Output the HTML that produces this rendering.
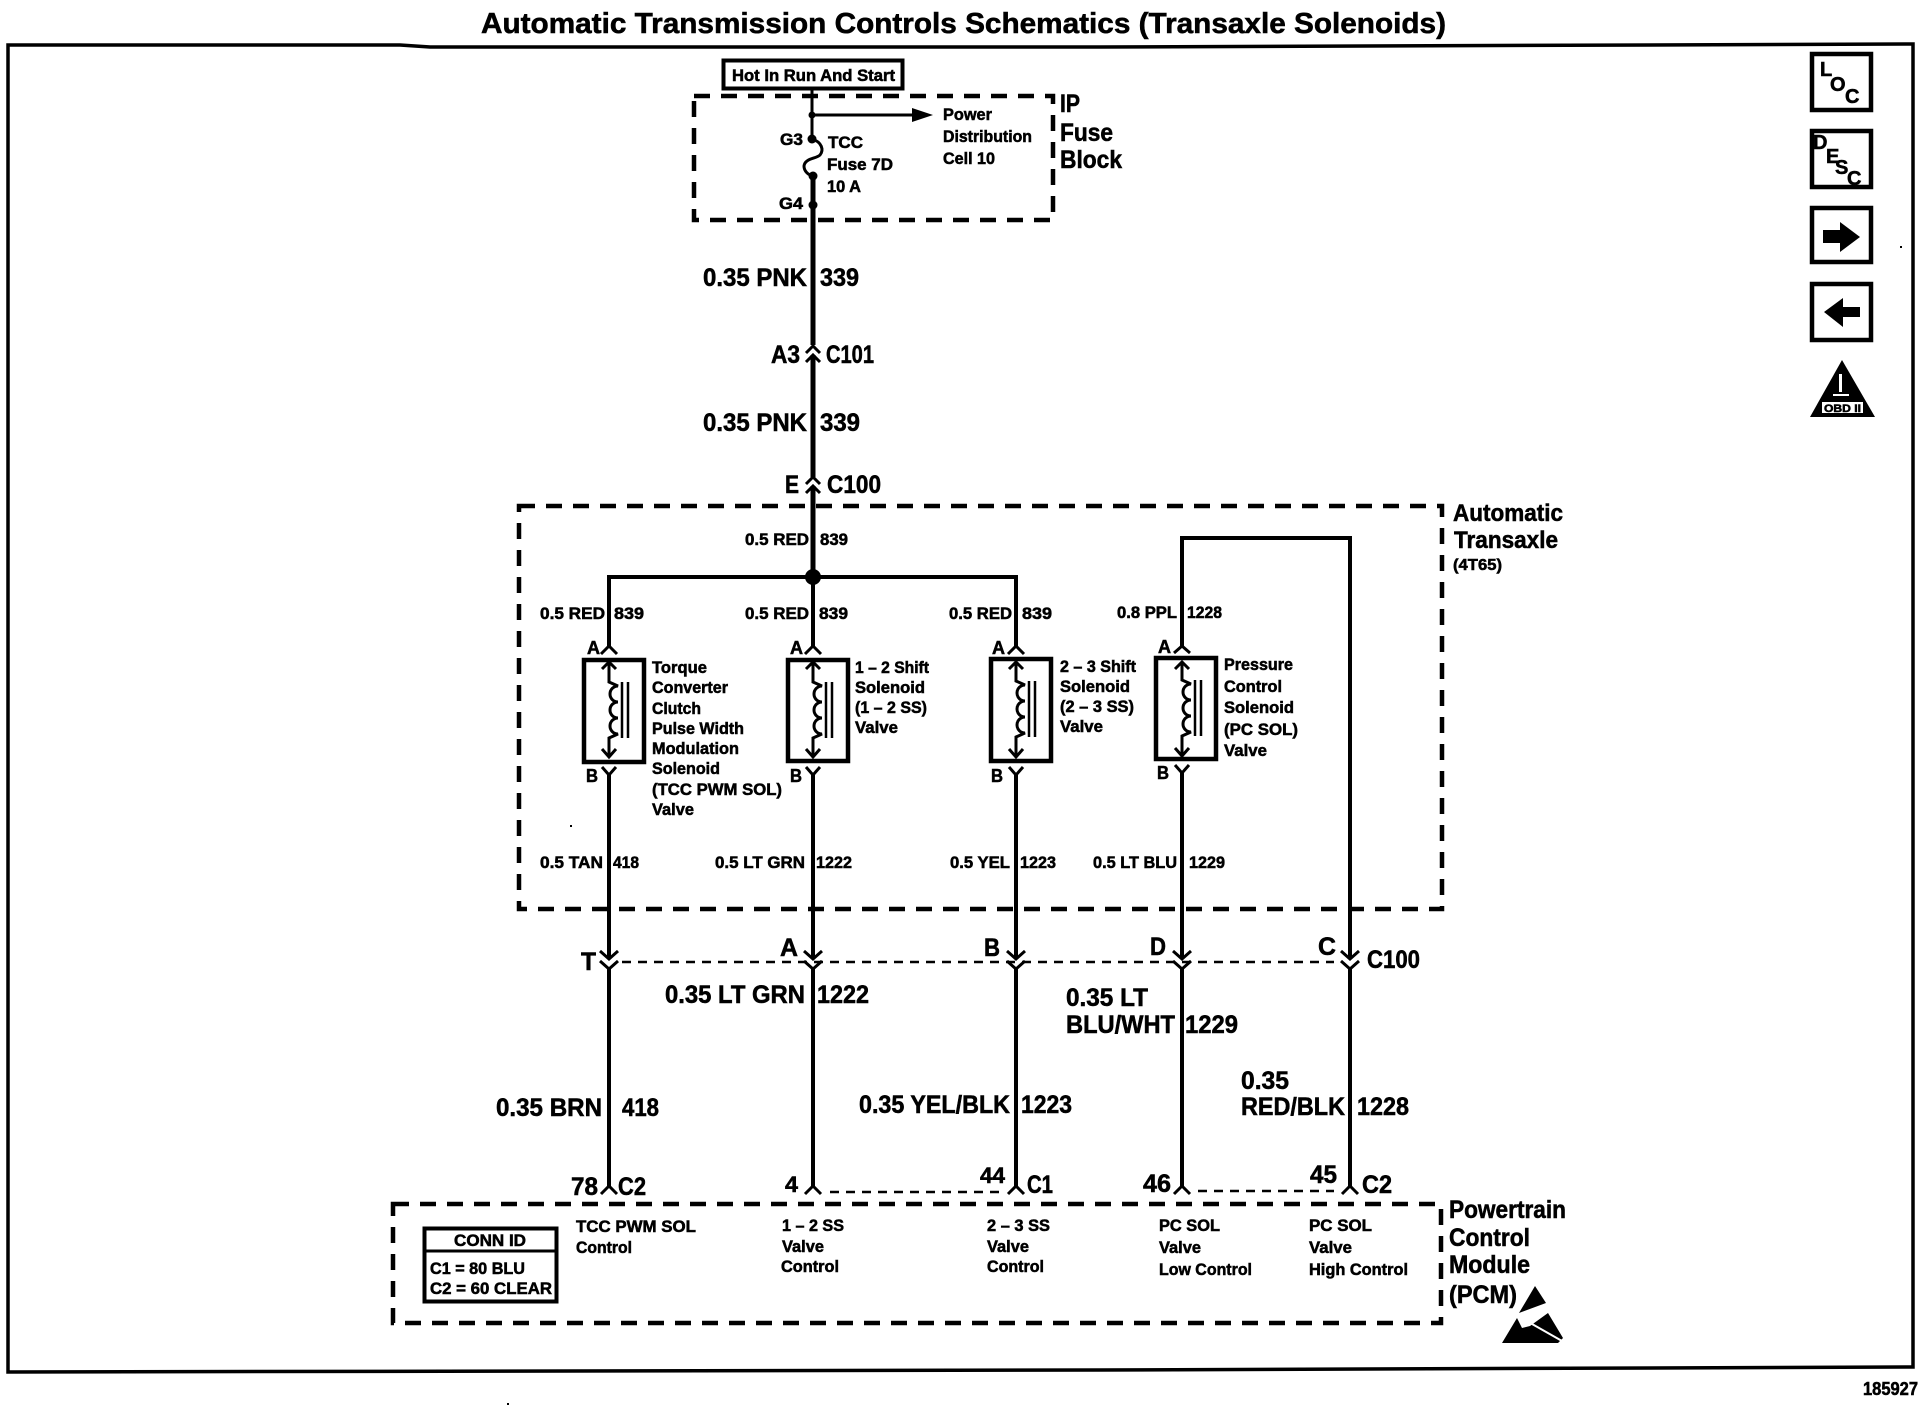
<!DOCTYPE html>
<html>
<head>
<meta charset="utf-8">
<style>
html,body{margin:0;padding:0;background:#fff;width:1924px;height:1424px;overflow:hidden}
svg{display:block}
text{font-family:"Liberation Sans",sans-serif;font-weight:bold;fill:#000;stroke:#000;stroke-width:.55px}
.s{font-size:17px}
.l{font-size:25px}
.w{fill:none;stroke:#000;stroke-width:4}
.t{fill:none;stroke:#000;stroke-width:3}
.d{fill:none;stroke:#000;stroke-width:4.5;stroke-dasharray:16 11}
.h{fill:none;stroke:#000;stroke-width:2.5;stroke-dasharray:9 7}
</style>
</head>
<body>
<svg width="1924" height="1424" viewBox="0 0 1924 1424" xmlns="http://www.w3.org/2000/svg">
<rect width="1924" height="1424" fill="#fff"/>

<!-- Title and frame -->
<text x="481" y="33" style="font-size:29px" textLength="965" lengthAdjust="spacingAndGlyphs">Automatic Transmission Controls Schematics (Transaxle Solenoids)</text>
<path d="M8 45H400L430 47H1100L1913 44V1367L1100 1370L8 1372Z" fill="none" stroke="#000" stroke-width="3.5"/>

<!-- Side icons -->
<rect x="1812" y="54" width="59" height="56" fill="none" stroke="#000" stroke-width="4.5"/>
<text x="1820" y="76" style="font-size:20px">L</text><text x="1830" y="91" style="font-size:20px">O</text><text x="1845" y="103" style="font-size:20px">C</text>
<rect x="1812" y="131" width="59" height="56" fill="none" stroke="#000" stroke-width="4.5"/>
<text x="1813" y="149" style="font-size:20px">D</text><text x="1826" y="163" style="font-size:20px">E</text><text x="1835" y="174" style="font-size:20px">S</text><text x="1847" y="185" style="font-size:20px">C</text>
<rect x="1812" y="208" width="59" height="54" fill="none" stroke="#000" stroke-width="4.5"/>
<polygon points="1823,230 1840,230 1840,222 1860,237 1840,252 1840,243 1823,243"/>
<rect x="1812" y="284" width="59" height="56" fill="none" stroke="#000" stroke-width="4.5"/>
<polygon points="1860,307 1843,307 1843,298 1824,312 1843,327 1843,317 1860,317"/>
<polygon points="1842,360 1810,417 1875,417"/>
<rect x="1839" y="374" width="3" height="18" fill="#fff"/>
<rect x="1833" y="394" width="16" height="2" fill="#fff"/>
<rect x="1822" y="402" width="41" height="11" fill="#fff"/>
<text x="1824" y="412" style="font-size:11px" textLength="37" lengthAdjust="spacingAndGlyphs">OBD II</text>

<!-- Fuse block -->
<rect x="723.5" y="60.5" width="179" height="28" fill="none" stroke="#000" stroke-width="4"/>
<text class="s" x="732" y="81" textLength="163" lengthAdjust="spacingAndGlyphs">Hot In Run And Start</text>
<rect class="d" x="694" y="96" width="359" height="124"/>
<path class="t" d="M812 89V139"/>
<path class="t" d="M812 115H918"/>
<polygon points="912,108 933,115 912,122"/>
<circle cx="812" cy="115" r="3.5"/>
<circle cx="812" cy="139" r="4.5"/>
<path class="t" d="M812 139C822 142 824 150 820 155C816 159 805 158 804 166C804 171 808 175 813 176"/>
<circle cx="813" cy="176" r="4.5"/>
<circle cx="813" cy="205" r="4.5"/>
<path d="M813 176V345M813 355V477M813 486V577" fill="none" stroke="#000" stroke-width="5"/>
<text class="s" x="780" y="145" textLength="23" lengthAdjust="spacingAndGlyphs">G3</text>
<text class="s" x="779" y="209" textLength="24" lengthAdjust="spacingAndGlyphs">G4</text>
<text class="s" x="828" y="148" textLength="35" lengthAdjust="spacingAndGlyphs">TCC</text>
<text class="s" x="827" y="170" textLength="66" lengthAdjust="spacingAndGlyphs">Fuse 7D</text>
<text class="s" x="827" y="192" textLength="34" lengthAdjust="spacingAndGlyphs">10 A</text>
<text class="s" x="943" y="120" textLength="49" lengthAdjust="spacingAndGlyphs">Power</text>
<text class="s" x="943" y="142" textLength="89" lengthAdjust="spacingAndGlyphs">Distribution</text>
<text class="s" x="943" y="164" textLength="52" lengthAdjust="spacingAndGlyphs">Cell 10</text>
<text class="l" x="1060" y="112" textLength="20" lengthAdjust="spacingAndGlyphs">IP</text>
<text class="l" x="1060" y="141" textLength="53" lengthAdjust="spacingAndGlyphs">Fuse</text>
<text class="l" x="1060" y="168" textLength="62" lengthAdjust="spacingAndGlyphs">Block</text>

<text class="l" x="703" y="286" textLength="104" lengthAdjust="spacingAndGlyphs">0.35 PNK</text>
<text class="l" x="820" y="286" textLength="39" lengthAdjust="spacingAndGlyphs">339</text>
<text class="l" x="771" y="363" textLength="29" lengthAdjust="spacingAndGlyphs">A3</text>
<text class="l" x="826" y="363" textLength="48" lengthAdjust="spacingAndGlyphs">C101</text>
<path class="t" d="M806 353L813 346L820 353M806 362L813 355L820 362"/>
<text class="l" x="703" y="431" textLength="104" lengthAdjust="spacingAndGlyphs">0.35 PNK</text>
<text class="l" x="820" y="431" textLength="40" lengthAdjust="spacingAndGlyphs">339</text>
<text class="l" x="785" y="493" textLength="14" lengthAdjust="spacingAndGlyphs">E</text>
<text class="l" x="827" y="493" textLength="54" lengthAdjust="spacingAndGlyphs">C100</text>
<path class="t" d="M806 484L813 477L820 484M806 493L813 486L820 493"/>

<!-- Automatic transaxle box -->
<rect class="d" x="519" y="506" width="923" height="403"/>
<text class="l" style="font-size:24px" x="1453" y="521" textLength="110" lengthAdjust="spacingAndGlyphs">Automatic</text>
<text class="l" style="font-size:24px" x="1454" y="548" textLength="104" lengthAdjust="spacingAndGlyphs">Transaxle</text>
<text x="1453" y="570" style="font-size:16px" textLength="49" lengthAdjust="spacingAndGlyphs">(4T65)</text>

<!-- Upper harness -->
<circle cx="813" cy="577" r="8"/>
<path class="w" d="M609 646V577H1016V646"/>
<path class="w" d="M813 577V646"/>
<path class="w" d="M1182 646V538H1350V958"/>

<text class="s" x="745" y="545" textLength="64" lengthAdjust="spacingAndGlyphs">0.5 RED</text>
<text class="s" x="820" y="545" textLength="28" lengthAdjust="spacingAndGlyphs">839</text>
<text class="s" x="540" y="619" textLength="65" lengthAdjust="spacingAndGlyphs">0.5 RED</text>
<text class="s" x="614" y="619" textLength="30" lengthAdjust="spacingAndGlyphs">839</text>
<text class="s" x="745" y="619" textLength="64" lengthAdjust="spacingAndGlyphs">0.5 RED</text>
<text class="s" x="819" y="619" textLength="29" lengthAdjust="spacingAndGlyphs">839</text>
<text class="s" x="949" y="619" textLength="63" lengthAdjust="spacingAndGlyphs">0.5 RED</text>
<text class="s" x="1022" y="619" textLength="30" lengthAdjust="spacingAndGlyphs">839</text>
<text class="s" x="1117" y="618" textLength="60" lengthAdjust="spacingAndGlyphs">0.8 PPL</text>
<text class="s" x="1187" y="618" textLength="35" lengthAdjust="spacingAndGlyphs">1228</text>

<!-- Solenoid 1 -->
<rect x="584" y="660" width="60" height="102" fill="none" stroke="#000" stroke-width="4.5"/>
<path class="t" d="M601 654L609 646L617 654"/>
<path class="t" d="M602 669L609 662L616 669M609 662V682L618 686A8 8 0 0 0 618 702A8 8 0 0 0 618 718A8 8 0 0 0 618 734L609 738V757M602 749L609 757L616 749"/>
<path d="M622 682V738M628 682V738" stroke="#000" stroke-width="2.5" fill="none"/>
<path class="t" d="M602 767L609 775L616 767"/>
<text class="s" style="font-size:18px" x="587" y="654" textLength="13" lengthAdjust="spacingAndGlyphs">A</text>
<text class="s" style="font-size:18px" x="586" y="782" textLength="12" lengthAdjust="spacingAndGlyphs">B</text>
<text class="s" x="652" y="673" textLength="55" lengthAdjust="spacingAndGlyphs">Torque</text>
<text class="s" x="652" y="693" textLength="76" lengthAdjust="spacingAndGlyphs">Converter</text>
<text class="s" x="652" y="714" textLength="49" lengthAdjust="spacingAndGlyphs">Clutch</text>
<text class="s" x="652" y="734" textLength="92" lengthAdjust="spacingAndGlyphs">Pulse Width</text>
<text class="s" x="652" y="754" textLength="87" lengthAdjust="spacingAndGlyphs">Modulation</text>
<text class="s" x="652" y="774" textLength="68" lengthAdjust="spacingAndGlyphs">Solenoid</text>
<text class="s" x="652" y="795" textLength="130" lengthAdjust="spacingAndGlyphs">(TCC PWM SOL)</text>
<text class="s" x="652" y="815" textLength="42" lengthAdjust="spacingAndGlyphs">Valve</text>

<!-- Solenoid 2 -->
<rect x="788" y="660" width="60" height="101" fill="none" stroke="#000" stroke-width="4.5"/>
<path class="t" d="M805 654L813 646L821 654"/>
<path class="t" d="M806 669L813 662L820 669M813 662V682L822 686A8 8 0 0 0 822 702A8 8 0 0 0 822 718A8 8 0 0 0 822 734L813 738V757M806 749L813 757L820 749"/>
<path d="M826 682V738M832 682V738" stroke="#000" stroke-width="2.5" fill="none"/>
<path class="t" d="M806 767L813 775L820 767"/>
<text class="s" style="font-size:18px" x="790" y="654" textLength="13" lengthAdjust="spacingAndGlyphs">A</text>
<text class="s" style="font-size:18px" x="790" y="782" textLength="12" lengthAdjust="spacingAndGlyphs">B</text>
<text class="s" x="855" y="673" textLength="74" lengthAdjust="spacingAndGlyphs">1 – 2 Shift</text>
<text class="s" x="855" y="693" textLength="70" lengthAdjust="spacingAndGlyphs">Solenoid</text>
<text class="s" x="855" y="713" textLength="72" lengthAdjust="spacingAndGlyphs">(1 – 2 SS)</text>
<text class="s" x="855" y="733" textLength="43" lengthAdjust="spacingAndGlyphs">Valve</text>

<!-- Solenoid 3 -->
<rect x="991" y="659" width="60" height="102" fill="none" stroke="#000" stroke-width="4.5"/>
<path class="t" d="M1008 654L1016 646L1024 654"/>
<path class="t" d="M1009 669L1016 662L1023 669M1016 662V681L1025 685A8 8 0 0 0 1025 701A8 8 0 0 0 1025 717A8 8 0 0 0 1025 733L1016 737V757M1009 749L1016 757L1023 749"/>
<path d="M1029 681V737M1035 681V737" stroke="#000" stroke-width="2.5" fill="none"/>
<path class="t" d="M1009 767L1016 775L1023 767"/>
<text class="s" style="font-size:18px" x="992" y="654" textLength="13" lengthAdjust="spacingAndGlyphs">A</text>
<text class="s" style="font-size:18px" x="991" y="782" textLength="12" lengthAdjust="spacingAndGlyphs">B</text>
<text class="s" x="1060" y="672" textLength="76" lengthAdjust="spacingAndGlyphs">2 – 3 Shift</text>
<text class="s" x="1060" y="692" textLength="70" lengthAdjust="spacingAndGlyphs">Solenoid</text>
<text class="s" x="1060" y="712" textLength="74" lengthAdjust="spacingAndGlyphs">(2 – 3 SS)</text>
<text class="s" x="1060" y="732" textLength="43" lengthAdjust="spacingAndGlyphs">Valve</text>

<!-- Solenoid 4 -->
<rect x="1156" y="658" width="60" height="101" fill="none" stroke="#000" stroke-width="4.5"/>
<path class="t" d="M1174 653L1182 646L1190 653"/>
<path class="t" d="M1175 669L1182 662L1189 669M1182 662V680L1191 684A8 8 0 0 0 1191 700A8 8 0 0 0 1191 716A8 8 0 0 0 1191 732L1182 736V756M1175 748L1182 756L1189 748"/>
<path d="M1195 680V736M1201 680V736" stroke="#000" stroke-width="2.5" fill="none"/>
<path class="t" d="M1175 765L1182 773L1189 765"/>
<text class="s" style="font-size:18px" x="1158" y="653" textLength="13" lengthAdjust="spacingAndGlyphs">A</text>
<text class="s" style="font-size:18px" x="1157" y="779" textLength="12" lengthAdjust="spacingAndGlyphs">B</text>
<text class="s" x="1224" y="670" textLength="69" lengthAdjust="spacingAndGlyphs">Pressure</text>
<text class="s" x="1224" y="692" textLength="58" lengthAdjust="spacingAndGlyphs">Control</text>
<text class="s" x="1224" y="713" textLength="70" lengthAdjust="spacingAndGlyphs">Solenoid</text>
<text class="s" x="1224" y="735" textLength="74" lengthAdjust="spacingAndGlyphs">(PC SOL)</text>
<text class="s" x="1224" y="756" textLength="43" lengthAdjust="spacingAndGlyphs">Valve</text>

<!-- Wires below solenoids -->
<path class="w" d="M609 775V958M609 968V1186"/>
<path class="w" d="M813 775V958M813 968V1186"/>
<path class="w" d="M1016 775V958M1016 968V1186"/>
<path class="w" d="M1182 773V958M1182 968V1186"/>
<path class="w" d="M1350 968V1186"/>

<text class="s" x="540" y="868" textLength="63" lengthAdjust="spacingAndGlyphs">0.5 TAN</text>
<text class="s" x="613" y="868" textLength="26" lengthAdjust="spacingAndGlyphs">418</text>
<text class="s" x="715" y="868" textLength="90" lengthAdjust="spacingAndGlyphs">0.5 LT GRN</text>
<text class="s" x="816" y="868" textLength="36" lengthAdjust="spacingAndGlyphs">1222</text>
<text class="s" x="950" y="868" textLength="60" lengthAdjust="spacingAndGlyphs">0.5 YEL</text>
<text class="s" x="1020" y="868" textLength="36" lengthAdjust="spacingAndGlyphs">1223</text>
<text class="s" x="1093" y="868" textLength="84" lengthAdjust="spacingAndGlyphs">0.5 LT BLU</text>
<text class="s" x="1189" y="868" textLength="36" lengthAdjust="spacingAndGlyphs">1229</text>

<!-- C100 connector row -->
<path class="h" d="M622 962H1334"/>
<g fill="none" stroke="#000" stroke-width="3">
<path d="M600 951L609 959L618 951M600 961L609 969L618 961"/>
<path d="M804 951L813 959L822 951M804 961L813 969L822 961"/>
<path d="M1007 951L1016 959L1025 951M1007 961L1016 969L1025 961"/>
<path d="M1173 951L1182 959L1191 951M1173 961L1182 969L1191 961"/>
<path d="M1341 951L1350 959L1359 951M1341 961L1350 969L1359 961"/>
</g>
<text class="l" x="581" y="970" textLength="15" lengthAdjust="spacingAndGlyphs">T</text>
<text class="l" x="780" y="956" textLength="18" lengthAdjust="spacingAndGlyphs">A</text>
<text class="l" x="984" y="956" textLength="16" lengthAdjust="spacingAndGlyphs">B</text>
<text class="l" x="1150" y="955" textLength="16" lengthAdjust="spacingAndGlyphs">D</text>
<text class="l" x="1318" y="955" textLength="18" lengthAdjust="spacingAndGlyphs">C</text>
<text class="l" x="1367" y="968" textLength="53" lengthAdjust="spacingAndGlyphs">C100</text>

<text class="l" x="665" y="1003" textLength="140" lengthAdjust="spacingAndGlyphs">0.35 LT GRN</text>
<text class="l" x="817" y="1003" textLength="52" lengthAdjust="spacingAndGlyphs">1222</text>
<text class="l" x="1066" y="1006" textLength="82" lengthAdjust="spacingAndGlyphs">0.35 LT</text>
<text class="l" x="1066" y="1033" textLength="109" lengthAdjust="spacingAndGlyphs">BLU/WHT</text>
<text class="l" x="1185" y="1033" textLength="53" lengthAdjust="spacingAndGlyphs">1229</text>
<text class="l" x="496" y="1116" textLength="106" lengthAdjust="spacingAndGlyphs">0.35 BRN</text>
<text class="l" x="622" y="1116" textLength="37" lengthAdjust="spacingAndGlyphs">418</text>
<text class="l" x="859" y="1113" textLength="151" lengthAdjust="spacingAndGlyphs">0.35 YEL/BLK</text>
<text class="l" x="1021" y="1113" textLength="51" lengthAdjust="spacingAndGlyphs">1223</text>
<text class="l" x="1241" y="1089" textLength="48" lengthAdjust="spacingAndGlyphs">0.35</text>
<text class="l" x="1241" y="1115" textLength="104" lengthAdjust="spacingAndGlyphs">RED/BLK</text>
<text class="l" x="1357" y="1115" textLength="52" lengthAdjust="spacingAndGlyphs">1228</text>

<!-- PCM connectors -->
<path class="h" d="M830 1192H1000"/>
<path class="h" d="M1198 1191H1334"/>
<g fill="none" stroke="#000" stroke-width="3">
<path d="M601 1194L609 1186L617 1194"/>
<path d="M805 1194L813 1186L821 1194"/>
<path d="M1008 1194L1016 1186L1024 1194"/>
<path d="M1174 1194L1182 1186L1190 1194"/>
<path d="M1342 1194L1350 1186L1358 1194"/>
</g>
<text class="l" x="571" y="1195" textLength="27" lengthAdjust="spacingAndGlyphs">78</text>
<text class="l" x="618" y="1195" textLength="28" lengthAdjust="spacingAndGlyphs">C2</text>
<text class="l" style="font-size:22px" x="785" y="1192" textLength="13" lengthAdjust="spacingAndGlyphs">4</text>
<text class="l" style="font-size:22px" x="980" y="1183" textLength="25" lengthAdjust="spacingAndGlyphs">44</text>
<text class="l" x="1027" y="1193" textLength="26" lengthAdjust="spacingAndGlyphs">C1</text>
<text class="l" x="1143" y="1192" textLength="28" lengthAdjust="spacingAndGlyphs">46</text>
<text class="l" x="1310" y="1183" textLength="27" lengthAdjust="spacingAndGlyphs">45</text>
<text class="l" x="1362" y="1193" textLength="30" lengthAdjust="spacingAndGlyphs">C2</text>

<!-- PCM box -->
<rect class="d" x="393" y="1204" width="1048" height="119"/>
<rect x="424.5" y="1228.5" width="132" height="73" fill="none" stroke="#000" stroke-width="4"/>
<path d="M425 1251H556" stroke="#000" stroke-width="3"/>
<text class="s" x="454" y="1246" textLength="72" lengthAdjust="spacingAndGlyphs">CONN ID</text>
<text class="s" x="430" y="1274" textLength="95" lengthAdjust="spacingAndGlyphs">C1 = 80 BLU</text>
<text class="s" x="430" y="1294" textLength="122" lengthAdjust="spacingAndGlyphs">C2 = 60 CLEAR</text>

<text class="s" x="576" y="1232" textLength="120" lengthAdjust="spacingAndGlyphs">TCC PWM SOL</text>
<text class="s" x="576" y="1253" textLength="56" lengthAdjust="spacingAndGlyphs">Control</text>
<text class="s" x="782" y="1231" textLength="62" lengthAdjust="spacingAndGlyphs">1 – 2 SS</text>
<text class="s" x="782" y="1252" textLength="42" lengthAdjust="spacingAndGlyphs">Valve</text>
<text class="s" x="781" y="1272" textLength="58" lengthAdjust="spacingAndGlyphs">Control</text>
<text class="s" x="987" y="1231" textLength="63" lengthAdjust="spacingAndGlyphs">2 – 3 SS</text>
<text class="s" x="987" y="1252" textLength="42" lengthAdjust="spacingAndGlyphs">Valve</text>
<text class="s" x="987" y="1272" textLength="57" lengthAdjust="spacingAndGlyphs">Control</text>
<text class="s" x="1159" y="1231" textLength="61" lengthAdjust="spacingAndGlyphs">PC SOL</text>
<text class="s" x="1159" y="1253" textLength="42" lengthAdjust="spacingAndGlyphs">Valve</text>
<text class="s" x="1159" y="1275" textLength="93" lengthAdjust="spacingAndGlyphs">Low Control</text>
<text class="s" x="1309" y="1231" textLength="63" lengthAdjust="spacingAndGlyphs">PC SOL</text>
<text class="s" x="1309" y="1253" textLength="43" lengthAdjust="spacingAndGlyphs">Valve</text>
<text class="s" x="1309" y="1275" textLength="99" lengthAdjust="spacingAndGlyphs">High Control</text>

<text class="l" x="1449" y="1218" textLength="117" lengthAdjust="spacingAndGlyphs">Powertrain</text>
<text class="l" x="1449" y="1246" textLength="81" lengthAdjust="spacingAndGlyphs">Control</text>
<text class="l" x="1449" y="1273" textLength="81" lengthAdjust="spacingAndGlyphs">Module</text>
<text class="l" x="1449" y="1303" textLength="68" lengthAdjust="spacingAndGlyphs">(PCM)</text>

<!-- ESD symbol -->
<polygon points="1535,1286 1519,1313 1546,1303"/>
<polygon points="1502,1343 1517,1318 1522,1328 1530,1326 1548,1313 1563,1338 1558,1343"/>
<path d="M1525 1320L1562 1341" stroke="#fff" stroke-width="2"/>

<!-- Footer and specks -->
<text x="1863" y="1395" style="font-size:18px" textLength="55" lengthAdjust="spacingAndGlyphs">185927</text>
<rect x="1900" y="246" width="2" height="2"/>
<rect x="507" y="1403" width="2" height="2"/>
<rect x="570" y="825" width="2" height="2"/>
</svg>
</body>
</html>
